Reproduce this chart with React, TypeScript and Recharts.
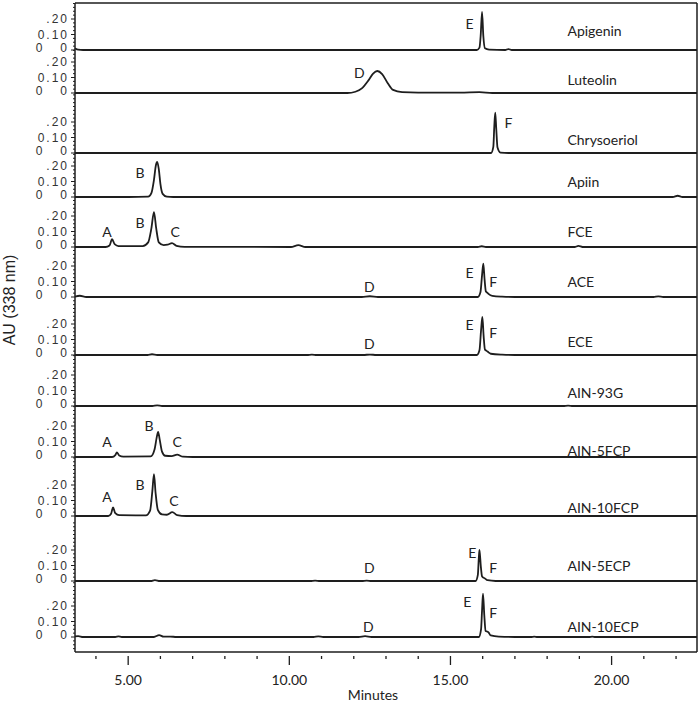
import { LineChart, Line, XAxis, YAxis, ReferenceLine, ReferenceDot } from "recharts";

type Pt = [number, number];
type Tag = [string, number, number];

// retention time (min), absorbance (AU)
const APIGENIN: Pt[] = [
  [3.35, 0.012], [3.45, 0.002], [3.6, 0], [15.82, 0], [15.9, 0.015], [15.94, 0.1],
  [15.98, 0.245], [16.02, 0.09], [16.07, 0.012], [16.2, 0.003], [16.7, 0], [16.8, 0.006],
  [16.9, 0], [22.65, 0],
];
const LUTEOLIN: Pt[] = [
  [3.35, 0], [11.8, 0], [12.05, 0.008], [12.25, 0.03], [12.45, 0.08], [12.6, 0.125],
  [12.73, 0.142], [12.88, 0.122], [13.05, 0.065], [13.22, 0.02], [13.5, 0.006], [14.0, 0.003],
  [15.3, 0.003], [15.9, 0.006], [16.3, 0], [22.65, 0],
];
const CHRYSOERIOL: Pt[] = [
  [3.35, 0], [16.26, 0], [16.33, 0.04], [16.36, 0.17], [16.39, 0.26], [16.42, 0.16],
  [16.46, 0.035], [16.55, 0.003], [16.8, 0], [22.65, 0],
];
const APIIN: Pt[] = [
  [3.35, 0], [5.0, 0], [5.62, 0.002], [5.72, 0.025], [5.8, 0.11], [5.86, 0.205], [5.9, 0.226],
  [5.95, 0.18], [6.0, 0.085], [6.07, 0.02], [6.2, 0.002], [6.4, 0], [21.9, 0], [22.05, 0.008],
  [22.2, 0], [22.65, 0],
];
const FCE: Pt[] = [
  [3.35, 0], [4.3, 0], [4.42, 0.01], [4.5, 0.05], [4.58, 0.018], [4.7, 0.006], [5.45, 0.006],
  [5.62, 0.03], [5.72, 0.12], [5.8, 0.225], [5.87, 0.12], [5.95, 0.03], [6.1, 0.012],
  [6.22, 0.015], [6.36, 0.025], [6.5, 0.008], [6.75, 0.001], [10.05, 0], [10.28, 0.012],
  [10.5, 0], [15.85, 0], [15.97, 0.005], [16.1, 0], [18.85, 0], [18.97, 0.007], [19.1, 0],
  [22.65, 0],
];
const ACE: Pt[] = [
  [3.35, 0.002], [3.5, 0.008], [3.7, 0], [12.25, 0], [12.5, 0.005], [12.75, 0], [15.85, 0],
  [15.93, 0.03], [15.98, 0.14], [16.02, 0.215], [16.06, 0.11], [16.1, 0.035], [16.14, 0.028],
  [16.18, 0.02], [16.3, 0.007], [16.6, 0.002], [17.0, 0], [21.3, 0], [21.45, 0.004],
  [21.6, 0], [22.65, 0],
];
const ECE: Pt[] = [
  [3.35, 0], [5.6, 0], [5.74, 0.005], [5.9, 0], [10.55, 0], [10.7, 0.003], [10.85, 0],
  [12.3, 0], [12.5, 0.003], [12.7, 0], [15.82, 0], [15.9, 0.03], [15.95, 0.16], [15.99, 0.245],
  [16.03, 0.12], [16.07, 0.035], [16.11, 0.028], [16.15, 0.022], [16.25, 0.008],
  [16.6, 0.002], [17.0, 0], [22.65, 0],
];
const AIN_93G: Pt[] = [
  [3.35, 0], [5.75, 0], [5.9, 0.004], [6.05, 0], [18.5, 0], [18.65, 0.003], [18.8, 0],
  [22.65, 0],
];
const AIN_5FCP: Pt[] = [
  [3.35, 0], [4.5, 0], [4.6, 0.012], [4.65, 0.03], [4.72, 0.01], [4.85, 0.003], [5.7, 0.004],
  [5.82, 0.05], [5.88, 0.12], [5.93, 0.162], [5.98, 0.11], [6.05, 0.035], [6.15, 0.008],
  [6.35, 0.006], [6.52, 0.015], [6.7, 0.002], [7.0, 0], [22.65, 0],
];
const AIN_10FCP: Pt[] = [
  [3.35, 0], [4.38, 0], [4.47, 0.015], [4.53, 0.055], [4.6, 0.018], [4.72, 0.005],
  [5.55, 0.004], [5.68, 0.035], [5.75, 0.16], [5.8, 0.27], [5.85, 0.15], [5.92, 0.04],
  [6.05, 0.01], [6.2, 0.008], [6.37, 0.025], [6.52, 0.006], [6.8, 0], [22.65, 0],
];
const AIN_5ECP: Pt[] = [
  [3.35, 0], [5.7, 0], [5.83, 0.006], [5.98, 0], [10.65, 0], [10.8, 0.003], [10.95, 0],
  [12.25, 0], [12.4, 0.003], [12.55, 0], [15.78, 0], [15.85, 0.04], [15.88, 0.15],
  [15.9, 0.2], [15.94, 0.1], [15.98, 0.03], [16.02, 0.022], [16.06, 0.018], [16.15, 0.005],
  [16.4, 0], [22.65, 0],
];
const AIN_10ECP: Pt[] = [
  [3.35, 0.004], [3.45, 0.006], [3.6, 0], [4.6, 0], [4.7, 0.004], [4.8, 0], [5.8, 0],
  [5.96, 0.012], [6.1, 0.002], [6.3, 0.003], [6.5, 0], [10.75, 0], [10.9, 0.004], [11.05, 0],
  [12.15, 0], [12.35, 0.006], [12.55, 0], [15.88, 0], [15.95, 0.05], [15.98, 0.17],
  [16.01, 0.28], [16.05, 0.14], [16.09, 0.04], [16.14, 0.035], [16.18, 0.03], [16.25, 0.01],
  [16.5, 0.002], [17.0, 0], [17.5, 0], [17.6, 0.003], [17.7, 0], [19.3, 0], [19.4, 0.003],
  [19.5, 0], [22.65, 0],
];

const SAMPLE_NAMES = [
  "Apigenin", "Luteolin", "Chrysoeriol", "Apiin", "FCE", "ACE",
  "ECE", "AIN-93G", "AIN-5FCP", "AIN-10FCP", "AIN-5ECP", "AIN-10ECP",
];
const TRACES = [
  APIGENIN, LUTEOLIN, CHRYSOERIOL, APIIN, FCE, ACE,
  ECE, AIN_93G, AIN_5FCP, AIN_10FCP, AIN_5ECP, AIN_10ECP,
];

// peak letter, anchored at (min, AU) inside each panel
const PEAK_TAGS: Tag[][] = [
  [["E", 15.59, 0.174]],
  [["D", 12.17, 0.135]],
  [["F", 16.8, 0.2]],
  [["B", 5.37, 0.155]],
  [["A", 4.34, 0.103], ["B", 5.37, 0.155], ["C", 6.46, 0.097]],
  [["D", 12.48, 0.065], ["E", 15.59, 0.155], ["F", 16.33, 0.097]],
  [["D", 12.48, 0.077], ["E", 15.59, 0.194], ["F", 16.33, 0.148]],
  [],
  [["A", 4.34, 0.097], ["B", 5.65, 0.206], ["C", 6.52, 0.097]],
  [["A", 4.34, 0.123], ["B", 5.37, 0.206], ["C", 6.42, 0.103]],
  [["D", 12.48, 0.084], ["E", 15.68, 0.181], ["F", 16.33, 0.084]],
  [["D", 12.45, 0.065], ["E", 15.52, 0.232], ["F", 16.33, 0.161]],
];
const NAME_T = 18.63;
const NAME_AU = [0.129, 0.084, 0.09, 0.097, 0.097, 0.097, 0.09, 0.09, 0.045, 0.058, 0.097, 0.065];

const X_DOMAIN: [number, number] = [3.35, 22.65];
const X_TICKS = [4, 5, 6, 7, 8, 9, 10, 11, 12, 13, 14, 15, 16, 17, 18, 19, 20, 21, 22];
const X_MAJOR = [5, 10, 15, 20];
const Y_MAJOR = [0, 0.1, 0.2];
const Y_MAJOR_LABELS = ["0   0", "0.10", ".20"];
const Y_MINOR = [
  -0.075, -0.05, -0.025, 0.025, 0.05, 0.075, 0.125, 0.15, 0.175, 0.225, 0.25, 0.275, 0.3,
  0.325, 0.35, 0.375,
];

// layout
const WIDTH = 700;
const AXIS_W = 75;
const PX_PER_AU = 155;
const PANEL_H = [47, 43, 60, 44, 50, 50, 58, 51, 51, 59, 65, 71];
const LAST_BELOW_ZERO = 15;
const X_AXIS_H = 50;
const INK = "#1e1e1e";

function YTick(props: any) {
  const { y, payload } = props;
  const v = Number(payload.value);
  const mi = Y_MAJOR.findIndex((m) => Math.abs(m - v) < 1e-6);
  return (
    <g>
      <line x1={AXIS_W - (mi >= 0 ? 4 : 2)} x2={AXIS_W} y1={y} y2={y} stroke={INK} strokeWidth={1} />
      {mi >= 0 && (
        <text
          x={69}
          y={v === 0 ? y - 2 : y}
          textAnchor="end"
          dominantBaseline="central"
          fontFamily="Liberation Sans, Arial, sans-serif"
          fontSize={12}
          letterSpacing={2}
          fill="#333"
          style={{ whiteSpace: "pre" }}
        >
          {Y_MAJOR_LABELS[mi]}
        </text>
      )}
    </g>
  );
}

function makeXTick(axisY: number) {
  return function XTick(props: any) {
    const { x, payload } = props;
    const v = Number(payload.value);
    const major = X_MAJOR.includes(v);
    return (
      <g>
        <line x1={x} x2={x} y1={axisY + 4} y2={axisY + (major ? 13 : 7)} stroke={INK} strokeWidth={1.3} />
        {major && (
          <text
            x={x}
            y={axisY + 27}
            textAnchor="middle"
            dominantBaseline="central"
            fontFamily="Lato, sans-serif"
            fontSize={14}
            fill="#222"
          >
            {`${v}.00`}
          </text>
        )}
      </g>
    );
  };
}

function Panel({ index }: { index: number }) {
  const last = index === TRACES.length - 1;
  const plotH = PANEL_H[index];
  const yMin = last ? -LAST_BELOW_ZERO / PX_PER_AU : 0;
  const yMax = yMin + plotH / PX_PER_AU;
  const rows = TRACES[index].map(([t, v]) => ({ t, v }));
  const yTicks = [...Y_MAJOR, ...Y_MINOR].filter((v) => v >= yMin && v <= yMax).sort((a, b) => a - b);
  const labelStyle = { fontFamily: "Lato, sans-serif", fontSize: 14, fill: "#222" };

  return (
    <LineChart
      width={WIDTH}
      height={plotH + (last ? X_AXIS_H : 0)}
      data={rows}
      margin={{ top: 0, right: 3, bottom: 0, left: 0 }}
    >
      <XAxis
        type="number"
        dataKey="t"
        domain={X_DOMAIN}
        ticks={X_TICKS}
        interval={0}
        hide={!last}
        height={X_AXIS_H}
        tickLine={false}
        tick={makeXTick(plotH)}
        axisLine={{ stroke: INK, strokeWidth: 1.5 }}
        label={
          last
            ? {
                value: "Minutes",
                position: "insideBottom",
                offset: 2,
                dx: -13,
                fontFamily: "Lato, sans-serif",
                fontSize: 14,
                fill: "#222",
              }
            : undefined
        }
      />
      <YAxis
        type="number"
        domain={[yMin, yMax]}
        ticks={yTicks}
        interval={0}
        width={AXIS_W}
        tickLine={false}
        tick={YTick}
        axisLine={{ stroke: INK, strokeWidth: 1.5 }}
      />
      {index === 0 && <ReferenceLine y={yMax} stroke={INK} strokeWidth={1.5} />}
      <ReferenceLine x={X_DOMAIN[1]} stroke={INK} strokeWidth={1.5} />
      <Line
        type="monotone"
        dataKey="v"
        stroke={INK}
        strokeWidth={1.8}
        dot={false}
        isAnimationActive={false}
      />
      {PEAK_TAGS[index].map(([txt, t, au], k) => (
        <ReferenceDot
          key={k}
          x={t}
          y={au}
          r={0}
          shape={(p: any) => (
            <text x={p.cx} y={p.cy} textAnchor="middle" dominantBaseline="central" {...labelStyle}>
              {txt}
            </text>
          )}
        />
      ))}
      <ReferenceDot
        x={NAME_T}
        y={NAME_AU[index]}
        r={0}
        shape={(p: any) => (
          <text x={p.cx} y={p.cy} textAnchor="start" dominantBaseline="central" {...labelStyle}>
            {SAMPLE_NAMES[index]}
          </text>
        )}
      />
    </LineChart>
  );
}

export default function App() {
  return (
    <div style={{ position: "absolute", left: 0, top: 0, width: WIDTH, height: 702, background: "#fff" }}>
      <style>{`.recharts-surface { overflow: visible; }`}</style>
      <svg width={20} height={140} style={{ position: "absolute", left: 0, top: 230 }}>
        <text
          transform="translate(9,70) rotate(-90)"
          textAnchor="middle"
          dominantBaseline="central"
          fontFamily="Liberation Sans, Arial, sans-serif"
          fontSize={16}
          fill="#222"
        >
          AU (338 nm)
        </text>
      </svg>
      <div style={{ position: "absolute", left: 0, top: 3, width: WIDTH }}>
        {TRACES.map((_, i) => (
          <Panel key={i} index={i} />
        ))}
      </div>
    </div>
  );
}
